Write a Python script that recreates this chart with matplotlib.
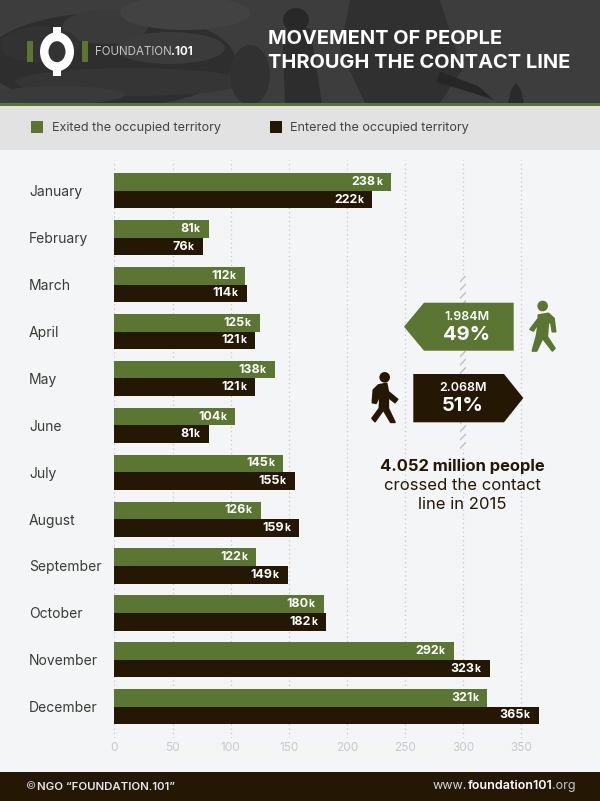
import matplotlib
matplotlib.use("Agg")
import matplotlib.pyplot as plt
from matplotlib.patches import Rectangle, Polygon, Circle, Ellipse

# data
months = ["January", "February", "March", "April", "May", "June", "July",
          "August", "September", "October", "November", "December"]
exited = [238, 81, 112, 125, 138, 104, 145, 126, 122, 180, 292, 321]
entered = [222, 76, 114, 121, 121, 81, 155, 159, 149, 182, 323, 365]
x_ticks = [0, 50, 100, 150, 200, 250, 300, 350]

GREEN = "#5b7532"
DARK = "#241704"
BG = "#f4f5f7"
FONT = "Inter"
W, H = 600, 801

plt.rcParams["font.family"] = [FONT, "DejaVu Sans"]
fig = plt.figure(figsize=(6, 8.01), dpi=100, facecolor=BG)

# background layer, pixel coordinates
bg = fig.add_axes([0, 0, 1, 1], zorder=0)
bg.set_xlim(0, W)
bg.set_ylim(H, 0)
bg.axis("off")
bg.add_patch(Rectangle((0, 0), W, 103, color="#3d3d3e", lw=0))
# rough photo shapes: sandbags, soldiers
for cx, cy, w, h, c in [(110, 60, 250, 95, "#2e2e2e"), (105, 27, 85, 34, "#3a3a3a"),
                        (170, 48, 110, 32, "#3b3b3b"), (40, 45, 80, 36, "#323232"),
                        (130, 82, 230, 28, "#353535"), (185, 13, 130, 34, "#424242"),
                        (60, 95, 130, 18, "#3a3a3a"), (250, 75, 40, 60, "#313131")]:
    bg.add_patch(Ellipse((cx, cy), w, h, color=c, lw=0))
bg.add_patch(Ellipse((296, 20), 26, 24, color="#282828", lw=0))
bg.add_patch(Polygon([(282, 30), (310, 28), (322, 103), (285, 103)], color="#2d2d2d", lw=0))
bg.add_patch(Polygon([(350, 0), (440, 0), (462, 70), (440, 103), (365, 103), (340, 50)], color="#303030", lw=0))
bg.add_patch(Polygon([(440, 72), (478, 86), (494, 100), (470, 92), (436, 82)], color="#262626", lw=0))
bg.add_patch(Polygon([(508, 103), (511, 90), (516, 83), (521, 90), (524, 103)], color="#2a2a2a", lw=0))
bg.add_patch(Rectangle((0, 103), W, 3, color=GREEN, lw=0))
bg.add_patch(Rectangle((0, 106), W, 44, color="#e2e2e2", lw=0))
bg.add_patch(Rectangle((0, 772), W, 29, color=DARK, lw=0))

# chart
x0, px_per_unit = 114.4, 1.162
y_first, y_step = 190.8, 46.9
top_px, bottom_px = 160, 738
ax = fig.add_axes([x0 / W, 1 - bottom_px / H, 400 * px_per_unit / W, (bottom_px - top_px) / H], zorder=1)
ax.patch.set_alpha(0)
ax.set_xlim(0, 400)
ax.set_ylim((bottom_px - y_first) / y_step, (top_px - y_first) / y_step)
bar_h = 17.6 / y_step
pos = list(range(len(months)))
ax.barh([p - bar_h / 2 for p in pos], exited, bar_h, color=GREEN, zorder=2)
ax.barh([p + bar_h / 2 for p in pos], entered, bar_h, color=DARK, zorder=2)
ax.set_xticks(x_ticks)
ax.set_yticks(pos)
ax.set_yticklabels(months, ha="left", fontsize=10, color="#3a3a36")
ax.grid(axis="x", color="#c8c8c8", linestyle=(0, (1, 2.5)), linewidth=0.9, zorder=0)
ax.tick_params(axis="x", length=0, pad=3, labelsize=8.5, labelcolor="#c9c9c9")
ax.tick_params(axis="y", length=0, pad=61.5)
for s in ax.spines.values():
    s.set_visible(False)


def value_label(v, y):
    ax.annotate("k", (v, y), xytext=(-9, 0), textcoords="offset pixels", ha="right", va="center",
                fontsize=7.5, fontweight="bold", color="white", zorder=3)
    ax.annotate(str(v), (v, y), xytext=(-15, 0), textcoords="offset pixels", ha="right", va="center",
                fontsize=9, fontweight="bold", color="white", zorder=3)


for p, a, b in zip(pos, exited, entered):
    value_label(a, p - bar_h / 2)
    value_label(b, p + bar_h / 2)

# overlay layer, pixel coordinates
top = fig.add_axes([0, 0, 1, 1], zorder=2)
top.set_xlim(0, W)
top.set_ylim(H, 0)
top.axis("off")
top.patch.set_alpha(0)

# logo
top.add_patch(Rectangle((26.8, 40.7), 6.5, 21, color=GREEN, lw=0))
top.add_patch(Rectangle((81.5, 40.7), 6.5, 21, color=GREEN, lw=0))
top.add_patch(Rectangle((52.6, 27), 8, 49, color="white", lw=0))
top.add_patch(Ellipse((57, 51.7), 34, 39, color="white", lw=0))
top.add_patch(Ellipse((57, 51.7), 17, 21, color="#333333", lw=0))
t = top.text(94.5, 52, "FOUNDATION", fontsize=8.3, color="#c4c4c4", va="center", ha="left")
fig.canvas.draw()
bb = t.get_window_extent()
top.text(bb.x1, 52, ".101", fontsize=8.3, fontweight="bold", color="white", va="center", ha="left")

# title
top.text(268, 39.5, "MOVEMENT OF PEOPLE", fontsize=14.4, fontweight="bold", color="white", va="center")
top.text(268, 62.5, "THROUGH THE CONTACT LINE", fontsize=14.4, fontweight="bold", color="white", va="center")

# legend
top.add_patch(Rectangle((31.4, 121), 11.8, 12, color=GREEN, lw=0))
top.text(52.5, 127.5, "Exited the occupied territory", fontsize=9.1, color="#444440", va="center")
top.add_patch(Rectangle((270, 121), 11.8, 12, color=DARK, lw=0))
top.text(290.5, 127.5, "Entered the occupied territory", fontsize=9.1, color="#444440", va="center")

# contact line stripe
top.add_patch(Rectangle((460, 276), 6, 173, facecolor="#f4f5f7", edgecolor="#c0c0c0", hatch="////", lw=0))

# arrows
top.add_patch(Polygon([(404, 326.7), (424, 302.7), (513.7, 302.7), (513.7, 350.7), (424, 350.7)], color=GREEN, lw=0))
top.add_patch(Polygon([(413.3, 374), (504, 374), (523.3, 398), (504, 422.3), (413.3, 422.3)], color=DARK, lw=0))
top.text(466.7, 317, "1.984M", fontsize=9, fontweight="semibold", color="white", ha="center", va="center")
top.text(466.7, 335, "49%", fontsize=14.5, fontweight="bold", color="white", ha="center", va="center")
top.text(462.7, 388, "2.068M", fontsize=9, fontweight="semibold", color="white", ha="center", va="center")
top.text(462.7, 406, "51%", fontsize=14.5, fontweight="bold", color="white", ha="center", va="center")

def crop_pt(x, y):
    return (360 + x / 3, 260 + y / 3)


green_body = [(535, 165), (565, 160), (582, 175), (587, 215), (577, 215), (572, 185), (565, 190),
              (562, 230), (585, 265), (577, 273), (548, 235), (530, 273), (517, 273), (530, 225),
              (535, 190), (520, 213), (510, 208), (535, 175)]
dark_body = [(55, 375), (80, 370), (85, 395), (113, 418), (105, 428), (85, 412), (85, 445), (105, 487),
             (92, 487), (70, 450), (45, 485), (36, 475), (58, 445), (60, 405), (48, 430), (37, 428), (40, 390)]
top.add_patch(Circle(crop_pt(548, 138), 5.3, color=GREEN, lw=0))
top.add_patch(Polygon([crop_pt(*p) for p in green_body], facecolor=GREEN, edgecolor=GREEN, lw=1.2, joinstyle="round"))
top.add_patch(Circle(crop_pt(74, 352), 5.3, color=DARK, lw=0))
top.add_patch(Polygon([crop_pt(*p) for p in dark_body], facecolor=DARK, edgecolor=DARK, lw=1.2, joinstyle="round"))

# summary text
top.text(462.7, 466.7, "4.052 million people", fontsize=11.9, fontweight="bold", color=DARK, ha="center", va="center")
top.text(462.7, 486, "crossed the contact", fontsize=12, color=DARK, ha="center", va="center")
top.text(462.7, 504.5, "line in 2015", fontsize=12, color=DARK, ha="center", va="center")

# footer
top.text(25, 786.5, "©", fontsize=8, color="#c4c4c4", va="center")
top.text(37, 786.5, "NGO “FOUNDATION.101”", fontsize=8.2, fontweight="semibold", color="#e8e8e8", va="center")
t1 = top.text(433, 786, "www.", fontsize=9.05, color="#d8d8d8", va="center")
fig.canvas.draw()
x1 = t1.get_window_extent().x1
t2 = top.text(x1, 786, "foundation101", fontsize=9.05, fontweight="semibold", color="white", va="center")
fig.canvas.draw()
x2 = t2.get_window_extent().x1
top.text(x2, 786, ".org", fontsize=9.05, color="#c4c4c4", va="center")

fig.savefig("out.png", dpi=100, facecolor=BG)
